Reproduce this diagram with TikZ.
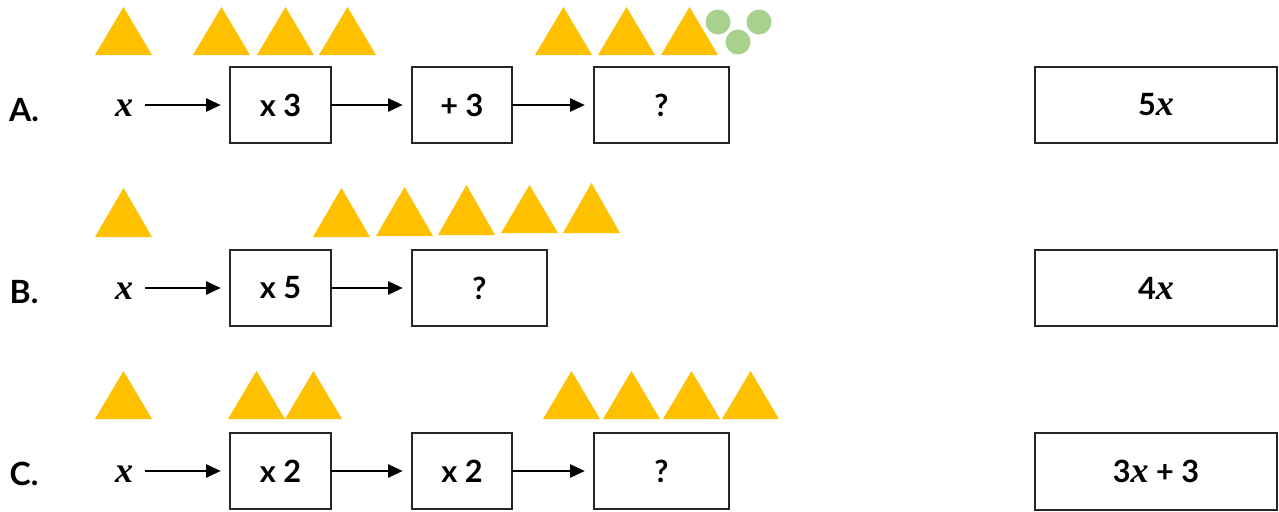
\documentclass[tikz,border=0pt]{standalone}
\usepackage{fontspec}
\setmainfont{Lato}[BoldFont={* Bold}]
\newfontfamily\xfont{Liberation Serif}
\usetikzlibrary{arrows.meta}
\definecolor{triy}{HTML}{FFC000}
\definecolor{dotg}{HTML}{A9D18E}
\newcommand\mytri[3]{\fill[triy] (#1,#2) -- ++(57,0) -- (#1+28.5,#3) -- cycle;}
\newcommand\vx{{\xfont\bfseries\itshape\fontsize{27}{30}\selectfont x}}
\tikzset{
  opbox/.style={draw=black!85, line width=1.7pt, inner sep=0pt, outer sep=0pt,
    minimum height=57.5pt, font=\fontsize{23}{27}\selectfont\bfseries},
  rowlabel/.style={inner sep=0pt, font=\fontsize{24}{28}\selectfont\bfseries},
  var/.style={inner sep=0pt},
  flow/.style={line width=1.3pt, -{Triangle[length=11pt,width=10pt]}, shorten >=7pt},
  dot/.style={fill=dotg}
}
\begin{document}
\begin{tikzpicture}[x=0.75pt,y=-0.75pt]
\useasboundingbox (0,0) rectangle (1279,511);
% triangles row A
\foreach \l in {95,193,257,319,535,598,661} {\mytri{\l}{55}{7}}
\fill[dot] (718,22) circle (12.5);
\fill[dot] (759,22) circle (12.5);
\fill[dot] (738,42) circle (12.5);
% triangles row B
\mytri{95}{237}{188}
\mytri{313}{237}{188}
\mytri{376}{236}{187}
\mytri{438}{235}{185}
\mytri{501}{233}{185}
\mytri{563}{233}{183}
% triangles row C
\foreach \l in {95,228,285,543,603,663,722} {\mytri{\l}{419}{371}}

% Row A
\node[rowlabel] (la) at (24,110) {A.};
\node[var] (xa) at (124,108) {\vx};
\node[opbox, minimum width=75.75pt] (a1) at (280.5,105) {x 3};
\node[opbox, minimum width=75pt] (a2) at (462,105) {+ 3};
\node[opbox, minimum width=101.25pt] (a3) at (661.5,105) {?};
\node[opbox, minimum width=182pt] (ra) at (1156,105) {5\vx};
\draw[flow, shorten <=9pt] (xa.east |- a1.west) -- (a1.west);
\draw[flow] (a1.east) -- (a2.west);
\draw[flow] (a2.east) -- (a3.west);

% Row B
\node[rowlabel] (lb) at (24,292) {B.};
\node[var] (xb) at (124,291) {\vx};
\node[opbox, minimum width=75.75pt] (b1) at (280.5,288) {x 5};
\node[opbox, minimum width=101.25pt] (b2) at (479.5,288) {?};
\node[opbox, minimum width=182pt] (rb) at (1156,288) {4\vx};
\draw[flow, shorten <=9pt] (xb.east |- b1.west) -- (b1.west);
\draw[flow] (b1.east) -- (b2.west);

% Row C
\node[rowlabel] (lc) at (24,474) {C.};
\node[var] (xc) at (124,474) {\vx};
\node[opbox, minimum width=75.75pt] (c1) at (280.5,471) {x 2};
\node[opbox, minimum width=75pt] (c2) at (462,471) {x 2};
\node[opbox, minimum width=101.25pt] (c3) at (661.5,471) {?};
\node[opbox, minimum width=182pt] (rc) at (1156,471.5) {3\vx{} + 3};
\draw[flow, shorten <=9pt] (xc.east |- c1.west) -- (c1.west);
\draw[flow] (c1.east) -- (c2.west);
\draw[flow] (c2.east) -- (c3.west);
\end{tikzpicture}
\end{document}
